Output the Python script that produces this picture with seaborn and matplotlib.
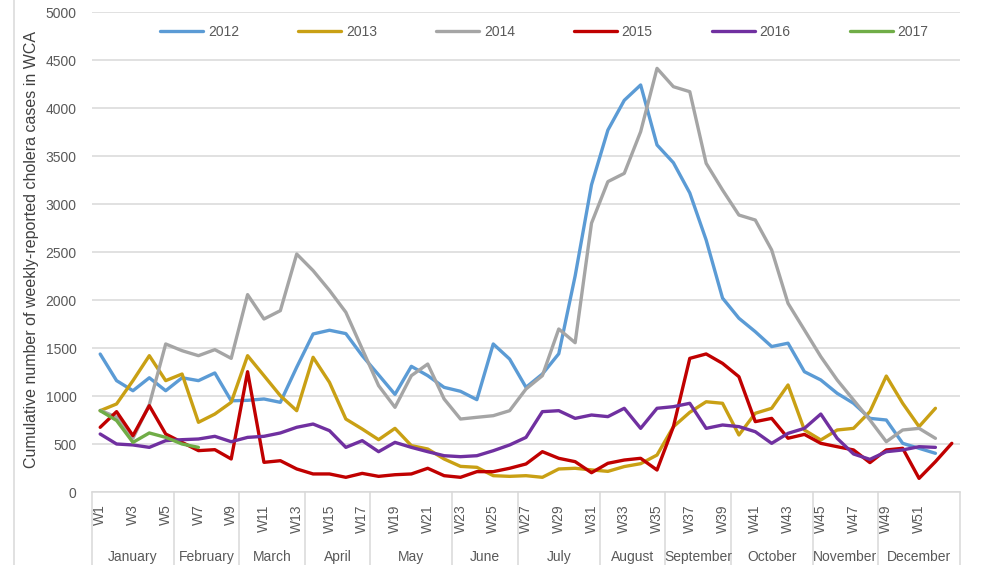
import numpy as np
import pandas as pd
import matplotlib
matplotlib.use("Agg")
import matplotlib.pyplot as plt
import matplotlib.transforms as mtransforms
import seaborn as sns

# ---------------- data ----------------
years = ["2012", "2013", "2014", "2015", "2016", "2017"]

cases_2012 = [1437, 1160, 1055, 1190, 1055, 1190, 1160, 1240, 950, 955, 969, 934, 1300,
              1646, 1685, 1650, 1420, 1220, 1017, 1309, 1212, 1090, 1049, 962, 1542, 1385,
              1090, 1229, 1440, 2250, 3200, 3770, 4080, 4240, 3615, 3430, 3115, 2625, 2020,
              1810, 1670, 1515, 1550, 1253, 1167, 1028, 924, 767, 750, 507, 455, 403]
cases_2013 = [847, 917, 1160, 1420, 1160, 1229, 726, 812, 934, 1420, 1212, 1003, 847,
              1403, 1142, 760, 656, 545, 663, 483, 448, 344, 267, 257, 170, 163,
              170, 153, 240, 247, 230, 215, 265, 295, 385, 680, 830, 940, 924,
              594, 820, 872, 1115, 646, 542, 646, 663, 837, 1208, 924, 681, 872]
cases_2014 = [850, 780, 560, 910, 1542, 1472, 1420, 1483, 1392, 2056, 1802, 1889, 2479,
              2306, 2100, 1872, 1490, 1108, 882, 1212, 1333, 969, 760, 778, 795, 847,
              1073, 1212, 1698, 1555, 2800, 3233, 3319, 3753, 4413, 4222, 4170, 3424, 3146,
              2885, 2833, 2521, 1965, 1688, 1410, 1167, 958, 750, 524, 646, 663, 559]
cases_2015 = [674, 837, 587, 899, 604, 517, 431, 441, 344, 1253, 309, 326, 240,
              188, 188, 153, 194, 163, 180, 188, 247, 170, 153, 212, 212, 247,
              292, 420, 351, 316, 201, 299, 333, 351, 229, 680, 1392, 1438, 1340,
              1201, 733, 767, 560, 600, 507, 472, 438, 306, 438, 455, 142, 316, 507]
cases_2016 = [604, 500, 490, 465, 535, 545, 552, 580, 524, 569, 580, 615, 674,
              708, 639, 465, 535, 420, 517, 465, 420, 378, 368, 378, 430, 490,
              569, 837, 847, 767, 802, 785, 872, 663, 872, 889, 924, 663, 698,
              681, 628, 507, 611, 663, 812, 559, 396, 340, 420, 438, 472, 465]
cases_2017 = [847, 745, 517, 615, 569, 500, 465]

series = [cases_2012, cases_2013, cases_2014, cases_2015, cases_2016, cases_2017]

week_tick_labels = ["W%d" % i for i in range(1, 52, 2)]
week_tick_positions = list(range(1, 52, 2))
months = ["January", "February", "March", "April", "May", "June", "July",
          "August", "September", "October", "November", "December"]
month_first_week = [1, 6, 10, 14, 18, 23, 27, 32, 36, 40, 45, 49]
n_weeks = 53

palette = {"2012": "#5B9BD5", "2013": "#C9A014", "2014": "#A5A5A5",
           "2015": "#C00000", "2016": "#7030A0", "2017": "#70AD47"}

ylabel_text = "Cumulative number of weekly-reported cholera cases in WCA"

# ---------------- table ----------------
rows = []
for yr, vals in zip(years, series):
    for i, v in enumerate(vals):
        rows.append({"week": i + 1, "cases": v, "year": yr})
df = pd.DataFrame(rows)

# ---------------- style ----------------
sns.set_style("white")
plt.rcParams["font.family"] = ["Liberation Sans", "DejaVu Sans"]
text_col = "#595959"
grid_col = "#D9D9D9"

W, H = 990, 565
fig = plt.figure(figsize=(W / 100, H / 100), dpi=100)
ax_l, ax_r, ax_t, ax_b = 92, 960, 12, 492
ax = fig.add_axes([ax_l / W, 1 - ax_b / H, (ax_r - ax_l) / W, (ax_b - ax_t) / H])

sns.lineplot(data=df, x="week", y="cases", hue="year", hue_order=years,
             palette=palette, linewidth=2.4, estimator=None, sort=True,
             ax=ax, legend=True)

ax.set_xlim(0.5, n_weeks + 0.5)
ax.set_ylim(0, 5000)
ax.set_yticks(np.arange(0, 5001, 500))
ax.yaxis.grid(True, color=grid_col, linewidth=1.1)
ax.xaxis.grid(False)
ax.set_axisbelow(True)
ax.set_xticks([])
ax.set_xlabel("")
ax.set_ylabel("")
ax.tick_params(axis="y", length=0, pad=11, labelsize=10, labelcolor=text_col)
for s in ["top", "right", "left"]:
    ax.spines[s].set_visible(False)
ax.spines["bottom"].set_color(grid_col)
ax.spines["bottom"].set_linewidth(1.1)

# week tick labels
for pos, lab in zip(week_tick_positions, week_tick_labels):
    ax.annotate(lab, xy=(pos, 0), xycoords=("data", "axes fraction"),
                xytext=(0, -9), textcoords="offset points", rotation=90,
                ha="center", va="top", fontsize=10, color=text_col)

# month labels and separators
trans = mtransforms.blended_transform_factory(ax.transData, ax.transAxes)
bounds = [w - 0.5 for w in month_first_week] + [n_weeks + 0.5]
sep_depth = (H - ax_b) / (ax_b - ax_t)
for b in bounds:
    ax.plot([b, b], [0, -sep_depth], transform=trans, color=grid_col,
            linewidth=1.1, clip_on=False)
for i, m in enumerate(months):
    c = (bounds[i] + bounds[i + 1]) / 2
    ax.annotate(m, xy=(c, 0), xycoords=("data", "axes fraction"),
                xytext=(0, -46.5), textcoords="offset points",
                ha="center", va="center", fontsize=10, color=text_col)

# legend
handles, labels = ax.get_legend_handles_labels()
leg = ax.legend(handles, labels, loc="center", bbox_to_anchor=(0.521, 0.959),
                ncol=6, frameon=False, fontsize=10, handlelength=3.1,
                handletextpad=0.35, columnspacing=4.25)
for t in leg.get_texts():
    t.set_color(text_col)
for h in leg.get_lines():
    h.set_linewidth(2.4)

# y label
fig.text(32 / W, 1 - 250 / H, ylabel_text, rotation=90, ha="center",
         va="center", fontsize=11.5, color="#404040")

# chart frame at the left edge
fig.add_artist(plt.Line2D([14 / W, 14 / W], [0, 1], color=grid_col,
                          linewidth=1.1, transform=fig.transFigure))

fig.savefig("out.png", dpi=100)
